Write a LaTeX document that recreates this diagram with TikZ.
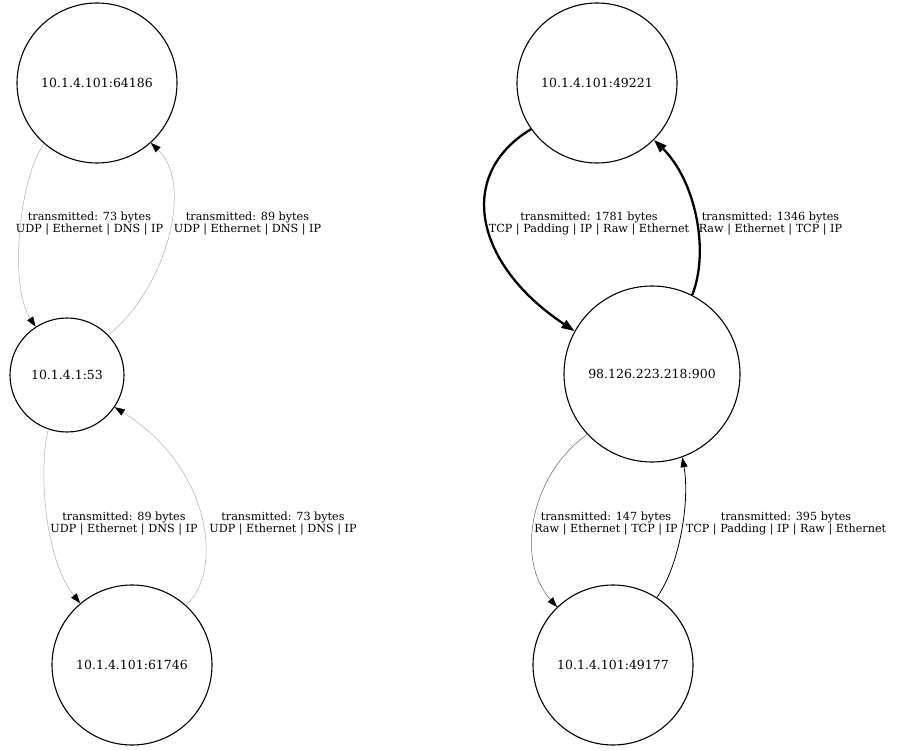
\documentclass[tikz,border=0pt]{standalone}
\usepackage{fontspec}
\setmainfont{DejaVu Serif}
\usetikzlibrary{arrows.meta}
\begin{document}
\begin{tikzpicture}[x=1pt,y=-1pt,
  host/.style={circle,draw,line width=1.1pt,inner sep=0pt,font=\fontsize{12.5}{14}\selectfont},
  elabel/.style={align=center,inner sep=0pt,font=\fontsize{11.2}{12}\selectfont},
  thin/.style={line width=0.5pt,-{Triangle[length=10pt,width=7pt,black]}},
  faint/.style={thin,draw=black!30},
  heavy/.style={line width=2.3pt,-{Triangle[length=13pt,width=9pt,black]}}]
\useasboundingbox (0,0) rectangle (897,751);
\fill[white] (0,0) rectangle (897,751);
\node[host,minimum size=160pt] (A) at (97,83) {10.1.4.101:64186};
\node[host,minimum size=114pt] (B) at (67,375) {10.1.4.1:53};
\node[host,minimum size=160pt] (C) at (132,665) {10.1.4.101:61746};
\node[host,minimum size=160pt] (D) at (597,83) {10.1.4.101:49221};
\node[host,minimum size=176pt] (E) at (652,374) {98.126.223.218:900};
\node[host,minimum size=160pt] (F) at (613,665) {10.1.4.101:49177};
\draw[faint] (A.-131.5) .. controls (20,175) and (8,285) .. (B.123.7);
\draw[faint] (B.44.3) .. controls (165,290) and (195,185) .. (A.-48.5);
\draw[faint] (B.-109) .. controls (38,470) and (45,560) .. (C.130);
\draw[faint] (C.48) .. controls (222,575) and (215,470) .. (B.-34.5);
\draw[heavy] (D.-145) .. controls (455,175) and (475,265) .. (E.151);
\draw[heavy] (E.63) .. controls (710,250) and (695,180) .. (D.-45);
\draw[thin,draw=black!60] (E.-137) .. controls (530,475) and (515,560) .. (F.134);
\draw[thin,line width=0.8pt] (F.57) .. controls (680,565) and (690,500) .. (E.-70);
\node[elabel] (l1) at (89.5,224) {transmitted: 73 bytes\\UDP | Ethernet | DNS | IP};
\node[elabel] (l2) at (247.5,224) {transmitted: 89 bytes\\UDP | Ethernet | DNS | IP};
\node[elabel] (l3) at (124,524) {transmitted: 89 bytes\\UDP | Ethernet | DNS | IP};
\node[elabel] (l4) at (283,524) {transmitted: 73 bytes\\UDP | Ethernet | DNS | IP};
\node[elabel] (l5) at (589,224) {transmitted: 1781 bytes\\TCP | Padding | IP | Raw | Ethernet};
\node[elabel] (l6) at (770.5,224) {transmitted: 1346 bytes\\Raw | Ethernet | TCP | IP};
\node[elabel] (l7) at (606,524) {transmitted: 147 bytes\\Raw | Ethernet | TCP | IP};
\node[elabel] (l8) at (786,524) {transmitted: 395 bytes\\TCP | Padding | IP | Raw | Ethernet};
\end{tikzpicture}
\end{document}
